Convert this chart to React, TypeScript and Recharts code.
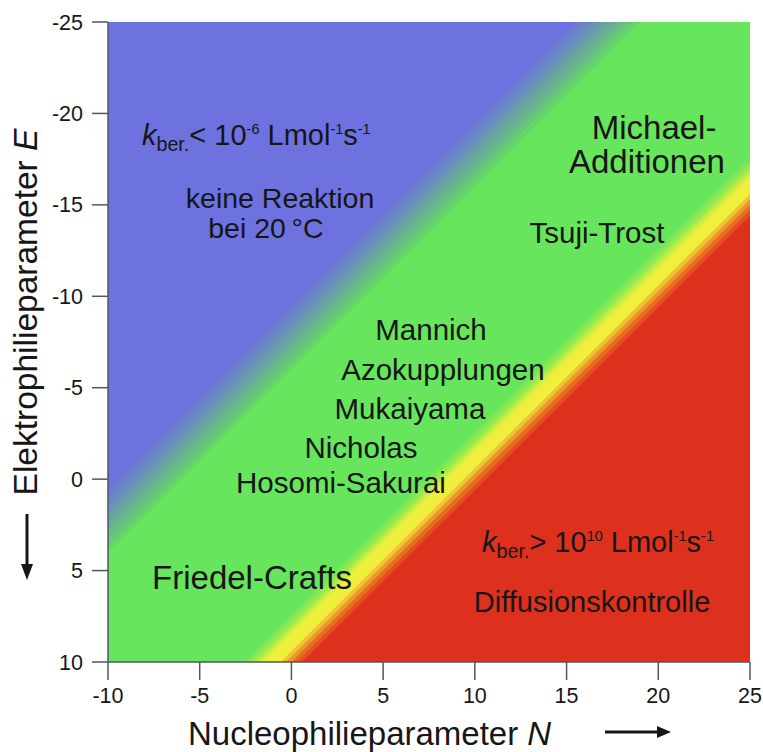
import React from 'react';
import { AreaChart, Area, XAxis, YAxis, ReferenceDot } from 'recharts';

// N+E levels where the colour changes (log k grows with N+E)
const bandLevels = [
  -40, -9.6, -9.2, -8.8, -8.4, -8.0, -7.6, -7.2, -6.8, -6.4, -6.0,
  7.4, 7.7, 8.0, 8.2, 8.45, 9.4, 9.7, 10.0, 10.3, 10.6,
];
const bandColors = [
  '#6d72df', '#6c79d5', '#6b83ca', '#6a8dbd', '#6998b0', '#69a3a2', '#68af94', '#68bb86', '#67c778', '#67d46b', '#67e55c',
  '#7ae856', '#96ea4f', '#b4ec48', '#d4ee42', '#eff03c', '#f0c434', '#ec962b', '#e66c24', '#e34f20', '#de311d',
];

const nValues = [-10, 25];
const xTicks = [-10, -5, 0, 5, 10, 15, 20, 25];
const yTicks = [-25, -20, -15, -10, -5, 0, 5, 10];

// labels inside the plot, positioned in N / E units
const notes = [
  { id: 'klow', N: -8.15, E: -18.27, anchor: 'start', size: 29, text: 'klow' },
  { id: 'keine', N: -0.62, E: -14.83, anchor: 'middle', size: 28.5, text: 'keine Reaktion' },
  { id: 'bei', N: -1.39, E: -13.19, anchor: 'middle', size: 28.5, text: 'bei 20\u2009°C' },
  { id: 'michael', N: 19.77, E: -18.6, anchor: 'middle', size: 33, text: 'Michael-' },
  { id: 'additionen', N: 19.38, E: -16.74, anchor: 'middle', size: 33, text: 'Additionen' },
  { id: 'tsuji', N: 16.66, E: -12.91, anchor: 'middle', size: 29.5, text: 'Tsuji-Trost' },
  { id: 'mannich', N: 7.61, E: -7.61, anchor: 'middle', size: 29.5, text: 'Mannich' },
  { id: 'azo', N: 8.26, E: -5.42, anchor: 'middle', size: 29.5, text: 'Azokupplungen' },
  { id: 'muka', N: 6.46, E: -3.29, anchor: 'middle', size: 29.5, text: 'Mukaiyama' },
  { id: 'nich', N: 3.79, E: -1.16, anchor: 'middle', size: 29.5, text: 'Nicholas' },
  { id: 'hosomi', N: 2.7, E: 0.76, anchor: 'middle', size: 29.5, text: 'Hosomi-Sakurai' },
  { id: 'friedel', N: -2.15, E: 6.01, anchor: 'middle', size: 33, text: 'Friedel-Crafts' },
  { id: 'khigh', N: 10.39, E: 3.98, anchor: 'start', size: 29, text: 'khigh' },
  { id: 'diff', N: 16.39, E: 7.27, anchor: 'middle', size: 29, text: 'Diffusionskontrolle' },
];

const FONT = '"Liberation Sans", Arial, Helvetica, sans-serif';
const INK = '#161616';

const bandData = nValues.map((N) => {
  const row: Record<string, number> = { N };
  bandLevels.forEach((lv, i) => {
    row['b' + i] = lv - N;
  });
  return row;
});

function RateText({ x, y, size, sign, exp }: { x: number; y: number; size: number; sign: string; exp: string }) {
  const sub = size * 0.68;
  const sup = size * 0.5;
  return (
    <text x={x} y={y} fontSize={size} fontFamily={FONT} fill={INK} textAnchor="start">
      <tspan fontStyle="italic">k</tspan>
      <tspan fontSize={sub} dy={6}>ber.</tspan>
      <tspan dy={-6}>{sign + ' 10'}</tspan>
      <tspan fontSize={sup} dy={-11}>{exp}</tspan>
      <tspan dy={11}>{' Lmol'}</tspan>
      <tspan fontSize={sup} dy={-11}>-1</tspan>
      <tspan dy={11}>s</tspan>
      <tspan fontSize={sup} dy={-11}>-1</tspan>
    </text>
  );
}

const noteLabel = (note: (typeof notes)[number]) => (props: any) => {
  const vb = props.viewBox || {};
  const x = (vb.x ?? 0) + (vb.width ?? 0) / 2;
  const y = (vb.y ?? 0) + (vb.height ?? 0) / 2;
  if (note.text === 'klow') return <RateText x={x} y={y} size={note.size} sign="<" exp="-6" />;
  if (note.text === 'khigh') return <RateText x={x} y={y} size={note.size} sign=">" exp="10" />;
  return (
    <text x={x} y={y} fontSize={note.size} fontFamily={FONT} fill={INK} textAnchor={note.anchor as any}>
      {note.text}
    </text>
  );
};

const XTitle = (props: any) => {
  const vb = props.viewBox;
  const ay = vb.y + 70;
  const ax = vb.x + 497;
  return (
    <g>
      <text x={vb.x + 80} y={vb.y + 83} fontSize={33} fontFamily={FONT} fill={INK}>
        Nucleophilieparameter <tspan fontStyle="italic">N</tspan>
      </text>
      <line x1={ax} y1={ay} x2={ax + 56} y2={ay} stroke={INK} strokeWidth={3} />
      <polygon points={`${ax + 52},${ay - 6} ${ax + 66},${ay} ${ax + 52},${ay + 6}`} fill={INK} />
    </g>
  );
};

const YTitle = (props: any) => {
  const vb = props.viewBox;
  const cx = vb.x + 37;
  const cy = vb.y + 290;
  const ax = vb.x + 27;
  const ay = vb.y + 492;
  return (
    <g>
      <text x={cx} y={cy} fontSize={33.5} fontFamily={FONT} fill={INK} textAnchor="middle" transform={`rotate(-90 ${cx} ${cy})`}>
        Elektrophilieparameter <tspan fontStyle="italic">E</tspan>
      </text>
      <line x1={ax} y1={ay} x2={ax} y2={ay + 54} stroke={INK} strokeWidth={3} />
      <polygon points={`${ax - 6},${ay + 50} ${ax},${ay + 66} ${ax + 6},${ay + 50}`} fill={INK} />
    </g>
  );
};

export default function App() {
  return (
    <div style={{ width: 763, height: 752 }}>
      <style>{'html, body { margin: 0; padding: 0; overflow: hidden; }'}</style>
      <AreaChart width={763} height={752} data={bandData} margin={{ top: 22, right: 13, left: 0, bottom: 0 }}>
        <XAxis
          dataKey="N"
          type="number"
          domain={[-10, 25]}
          ticks={xTicks}
          allowDataOverflow
          height={90}
          tickSize={18}
          tickMargin={8}
          tick={{ fill: INK, fontSize: 21.5, fontFamily: FONT }}
          axisLine={{ stroke: '#4d5866', strokeWidth: 1.5 }}
          tickLine={{ stroke: '#4d5866', strokeWidth: 1.5 }}
          label={{ content: XTitle }}
        />
        <YAxis
          type="number"
          domain={[-25, 10]}
          ticks={yTicks}
          reversed
          allowDataOverflow
          width={108}
          tickSize={16}
          tickMargin={9}
          tick={{ fill: INK, fontSize: 21.5, fontFamily: FONT }}
          axisLine={{ stroke: '#4d5866', strokeWidth: 1.5 }}
          tickLine={{ stroke: '#4d5866', strokeWidth: 1.5 }}
          label={{ content: YTitle }}
        />
        {bandLevels.map((lv, i) => (
          <Area
            key={'b' + i}
            dataKey={'b' + i}
            type="linear"
            baseValue={10}
            stroke="none"
            fill={bandColors[i]}
            fillOpacity={1}
            dot={false}
            activeDot={false}
            isAnimationActive={false}
          />
        ))}
        {notes.map((note) => (
          <ReferenceDot
            key={note.id}
            x={note.N}
            y={note.E}
            r={0}
            fill="none"
            stroke="none"
            label={{ content: noteLabel(note) }}
          />
        ))}
      </AreaChart>
    </div>
  );
}
